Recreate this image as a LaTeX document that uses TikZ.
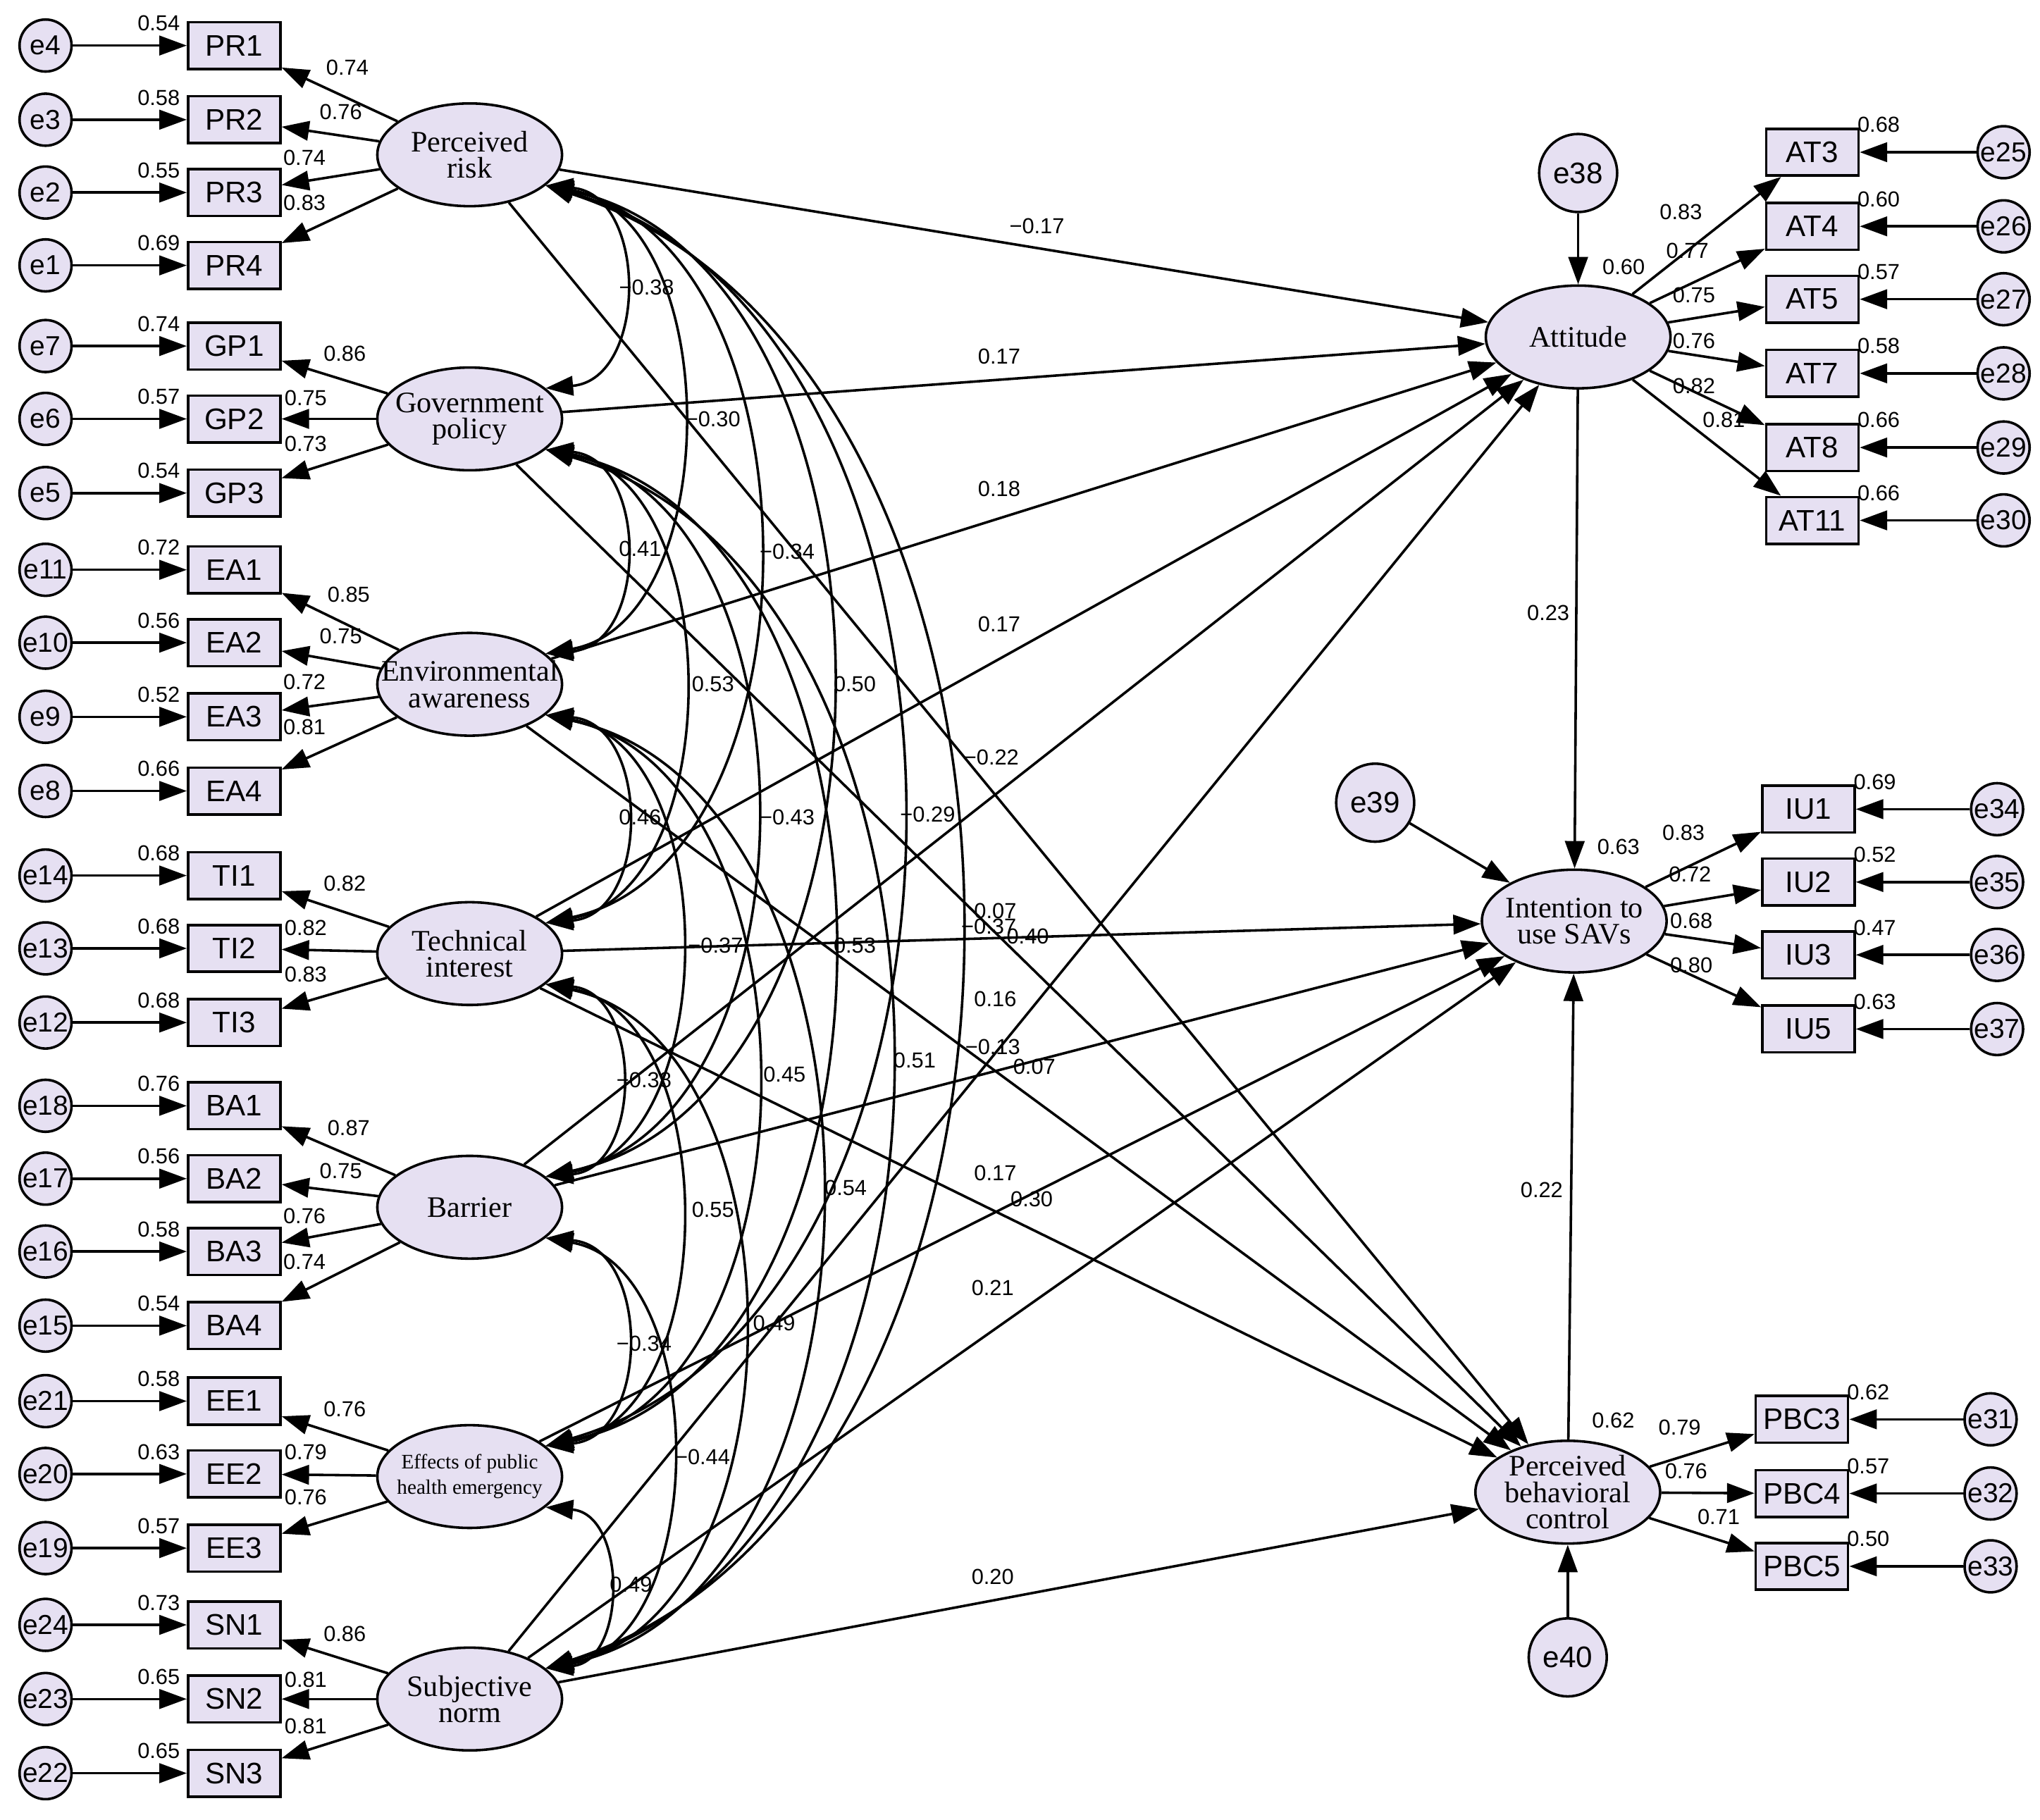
\documentclass[tikz,border=0pt]{standalone}
\usepackage{fontspec}
\setmainfont{Liberation Serif}
\setsansfont{Liberation Sans}
\usetikzlibrary{shapes.geometric,arrows.meta}
\definecolor{fillc}{HTML}{E6E0F2}
\begin{document}
\begin{tikzpicture}[x=0.02cm,y=-0.02cm,line width=1.1pt,
 box/.style={draw,fill=fillc,minimum width=1.42cm,minimum height=0.72cm,inner sep=0,font=\sffamily\fontsize{13}{13}\selectfont},
 err/.style={circle,draw,fill=fillc,minimum size=0.8cm,inner sep=0,font=\sffamily\fontsize{12}{12}\selectfont},
 errb/.style={circle,draw,fill=fillc,minimum size=1.2cm,inner sep=0,font=\sffamily\fontsize{13}{13}\selectfont},
 lat/.style={ellipse,draw,fill=fillc,minimum width=2.84cm,minimum height=1.58cm,inner sep=0},
 ltx/.style={inner sep=0,align=center,font=\rmfamily\fontsize{13}{11.5}\selectfont},
 lab/.style={inner sep=0,font=\sffamily\fontsize{9.5}{9.5}\selectfont},
 arr/.style={-{Triangle[length=12pt,width=8.5pt]}},
 cov/.style={{Triangle[length=12pt,width=8.5pt]}-{Triangle[length=12pt,width=8.5pt]}}]
\useasboundingbox (0,0) rectangle (1568,1399);
% latents
\foreach \n/\x/\y/\t in {PR/361/119/{Perceived\\risk}, GP/361/322/{Government\\policy}, EA/361/526/{Environmental\\awareness},
 TI/361/733/{Technical\\interest}, BA/361/928/{Barrier}, SN/361/1306/{Subjective\\norm},
 Att/1213/259/{Attitude}, Int/1210/708/{Intention to\\use SAVs}, PBC/1205/1147/{Perceived\\behavioral\\control}}{
 \node[lat] (\n) at (\x,\y) {};
 \node[ltx] (t\n) at (\x,\y) {\t};
}
\node[lat] (EE) at (361,1135) {};
\node[ltx,font=\rmfamily\fontsize{9}{11}\selectfont] (tEE) at (361,1135) {Effects of public\\health emergency};
\node[errb] (e38) at (1213,133) {e38};
\node[errb] (e39) at (1057,617) {e39};
\node[errb] (e40) at (1205,1274) {e40};
% left indicators
\foreach \n/\y/\e/\r/\l/\lx/\ly/\L in {
PR1/35/e4/0.54/0.74/267/52/PR, PR2/92/e3/0.58/0.76/262/86/PR, PR3/148/e2/0.55/0.74/234/121/PR, PR4/204/e1/0.69/0.83/234/156/PR,
GP1/266/e7/0.74/0.86/265/272/GP, GP2/322/e6/0.57/0.75/235/306/GP, GP3/379/e5/0.54/0.73/235/341/GP,
EA1/438/e11/0.72/0.85/268/457/EA, EA2/494/e10/0.56/0.75/262/489/EA, EA3/551/e9/0.52/0.72/234/524/EA, EA4/608/e8/0.66/0.81/234/559/EA,
TI1/673/e14/0.68/0.82/265/679/TI, TI2/729/e13/0.68/0.82/235/713/TI, TI3/786/e12/0.68/0.83/235/749/TI,
BA1/850/e18/0.76/0.87/268/867/BA, BA2/906/e17/0.56/0.75/262/900/BA, BA3/962/e16/0.58/0.76/234/935/BA, BA4/1019/e15/0.54/0.74/234/970/BA,
EE1/1077/e21/0.58/0.76/265/1083/EE, EE2/1133/e20/0.63/0.79/235/1116/EE, EE3/1190/e19/0.57/0.76/235/1151/EE,
SN1/1249/e24/0.73/0.86/265/1256/SN, SN2/1306/e23/0.65/0.81/235/1291/SN, SN3/1363/e22/0.65/0.81/235/1327/SN}{
 \node[box] (\n) at (180,\y) {\n};
 \node[err] (\e) at (35,\y) {\e};
 \draw[arr] (\e) -- (\n);
 \draw[arr] (\L) -- (\n);
 \node[lab] (r\n) at (122,\y-17) {\r};
 \node[lab] (l\n) at (\lx,\ly) {\l};
}
% right indicators
\foreach \n/\y/\bx/\ex/\e/\r/\l/\lx/\ly/\L in {
AT3/117/1393/1540/e25/0.68/0.83/1292/163/Att, AT4/174/1393/1540/e26/0.60/0.77/1297/193/Att, AT5/230/1393/1540/e27/0.57/0.75/1302/227/Att,
AT7/287/1393/1540/e28/0.58/0.76/1302/262/Att, AT8/344/1393/1540/e29/0.66/0.82/1302/297/Att, AT11/400/1393/1540/e30/0.66/0.81/1325/323/Att,
IU1/622/1390/1535/e34/0.69/0.83/1294/640/Int, IU2/678/1390/1535/e35/0.52/0.72/1299/672/Int, IU3/734/1390/1535/e36/0.47/0.68/1300/708/Int, IU5/791/1390/1535/e37/0.63/0.80/1300/742/Int,
PBC3/1091/1385/1530/e31/0.62/0.79/1291/1097/PBC, PBC4/1148/1385/1530/e32/0.57/0.76/1296/1131/PBC, PBC5/1204/1385/1530/e33/0.50/0.71/1321/1166/PBC}{
 \node[box] (\n) at (\bx,\y) {\n};
 \node[err] (\e) at (\ex,\y) {\e};
 \draw[arr] (\e) -- (\n);
 \draw[arr] (\L) -- (\n);
 \node[lab] (r\n) at (\bx+51,\y-21) {\r};
 \node[lab] (l\n) at (\lx,\ly) {\l};
}
% errors to latents
\draw[arr] (e38) -- (Att);
\draw[arr] (e39) -- (Int);
\draw[arr] (e40) -- (PBC);
\node[lab] (r38) at (1248,205) {0.60};
\node[lab] (r39) at (1244,651) {0.63};
\node[lab] (r40) at (1240,1092) {0.62};
% structural
\foreach \a/\b in {PR/Att,GP/Att,EA/Att,TI/Att,BA/Att,SN/Att,TI/Int,BA/Int,EE/Int,SN/Int,PR/PBC,GP/PBC,EA/PBC,TI/PBC,SN/PBC,Att/Int,PBC/Int}
 \draw[arr] (\a) -- (\b);
% covariances
\foreach \a/\b/\g/\lo in {PR/GP/85/1.3,GP/EA/85/1.3,EA/TI/85/1.3,TI/BA/85/1.3,BA/EE/85/1.3,EE/SN/85/1.3,
 PR/EA/80/1,GP/TI/80/1,EA/BA/80/1,TI/EE/80/1,BA/SN/80/1,
 PR/TI/78/1,GP/BA/78/1,EA/EE/78/1,TI/SN/78/1,
 PR/BA/78/1,GP/EE/78/1,EA/SN/78/1,
 PR/EE/74/1,GP/SN/74/1,PR/SN/72/1}
 \draw[cov] (\a.-22) to[bend left=\g,looseness=\lo] (\b.22);
% path labels
\foreach \t/\x/\y [count=\i] in {
−0.17/797/174, 0.17/768/274, 0.18/768/376, 0.17/768/480, −0.22/762/582, 0.16/765/768, 0.40/790/720, 0.07/765/700,
−0.13/763/805, 0.07/795/820, 0.17/765/902, 0.30/793/922, 0.21/763/990, 0.20/763/1212, 0.23/1190/471, 0.22/1185/915,
−0.38/497/221, −0.30/548/322, 0.41/492/422, −0.34/605/424, 0.53/548/526, 0.50/657/526, 0.46/492/628, −0.43/605/628,
−0.29/713/626, −0.37/550/727, 0.53/657/727, −0.37/760/712, −0.38/495/830, 0.45/603/826, 0.51/703/815, 0.55/548/930,
0.54/650/913, 0.49/595/1017, −0.34/495/1033, −0.44/540/1120, 0.49/485/1218}
 \node[lab] (p\i) at (\x,\y) {\t};
\end{tikzpicture}
\end{document}
